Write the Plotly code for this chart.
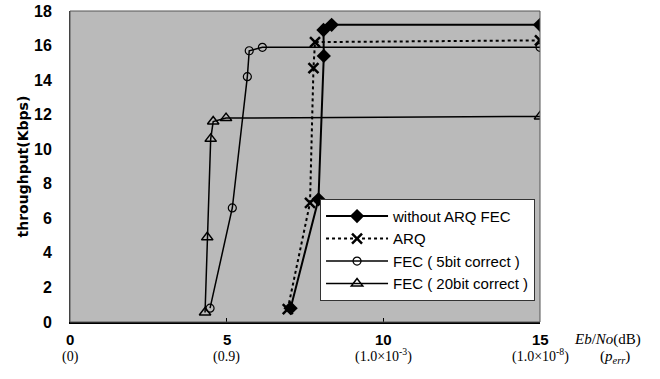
import plotly.graph_objects as go

# Data
x_plain = [7.04, 7.93, 8.10, 8.09, 8.35, 15.0]
y_plain = [0.8, 7.1, 15.4, 16.9, 17.2, 17.2]

x_arq = [6.95, 7.66, 7.77, 7.82, 15.0]
y_arq = [0.75, 6.9, 14.7, 16.2, 16.3]

x_fec5 = [4.47, 5.18, 5.66, 5.72, 6.14, 15.0]
y_fec5 = [0.8, 6.6, 14.2, 15.7, 15.9, 15.9]

x_fec20 = [4.31, 4.38, 4.49, 4.57, 4.98, 15.0]
y_fec20 = [0.55, 4.9, 10.6, 11.6, 11.8, 11.9]

series_names = ["without ARQ FEC", "ARQ", "FEC ( 5bit correct )", "FEC ( 20bit correct )"]

x_tick_vals = [0, 5, 10, 15]
x_tick_main = ["0", "5", "10", "15"]
x_tick_sub = ["(0)", "(0.9)", "(1.0×10<sup>-3</sup>)", "(1.0×10<sup>-8</sup>)"]
y_tick_vals = [0, 2, 4, 6, 8, 10, 12, 14, 16, 18]

fig = go.Figure()
fig.add_trace(go.Scatter(x=x_plain, y=y_plain, name=series_names[0], mode="lines+markers",
                         line=dict(color="black", width=2),
                         marker=dict(symbol="diamond", size=11, color="black")))
fig.add_trace(go.Scatter(x=x_arq, y=y_arq, name=series_names[1], mode="lines+markers",
                         line=dict(color="black", width=2, dash="dot"),
                         marker=dict(symbol="x-thin", size=10, line=dict(color="black", width=2.5))))
fig.add_trace(go.Scatter(x=x_fec5, y=y_fec5, name=series_names[2], mode="lines+markers",
                         line=dict(color="black", width=1.5),
                         marker=dict(symbol="circle-open", size=8, color="black", line=dict(width=1.2))))
fig.add_trace(go.Scatter(x=x_fec20, y=y_fec20, name=series_names[3], mode="lines+markers",
                         line=dict(color="black", width=1.5),
                         marker=dict(symbol="triangle-up-open", size=10, color="black", line=dict(width=1.5))))

for v, main, sub in zip(x_tick_vals, x_tick_main, x_tick_sub):
    fig.add_annotation(x=v, y=0, xref="x", yref="paper", yshift=-28, text="<b>" + main + "</b>",
                       xanchor="center", yanchor="bottom",
                       showarrow=False, font=dict(family="Arial", size=15, color="black"))
    fig.add_annotation(x=v, y=0, xref="x", yref="paper", yshift=-45, text=sub,
                       xanchor="center", yanchor="bottom",
                       showarrow=False, font=dict(family="Liberation Serif", size=14, color="black"))

fig.add_annotation(x=1, y=0, xref="paper", yref="paper", xshift=67, yshift=-28,
                   xanchor="center", yanchor="bottom",
                   text="<i>Eb</i>/<i>No</i>(dB)", showarrow=False,
                   font=dict(family="Liberation Serif", size=15, color="black"))
fig.add_annotation(x=1, y=0, xref="paper", yref="paper", xshift=75, yshift=-46,
                   xanchor="center", yanchor="bottom",
                   text="(<i>p</i><sub><i>err</i></sub>)", showarrow=False,
                   font=dict(family="Liberation Serif", size=15, color="black"))
fig.add_annotation(x=0, y=0.5, xref="paper", yref="paper", xshift=-48, textangle=-90,
                   xanchor="center", yanchor="middle",
                   text="<b>throughput(Kbps)</b>", showarrow=False,
                   font=dict(family="DejaVu Sans", size=14, color="black"))

fig.update_layout(
    width=660, height=379,
    margin=dict(l=70, r=120, t=11, b=57, autoexpand=False),
    paper_bgcolor="white",
    plot_bgcolor="#bababa",
    showlegend=True,
    legend=dict(x=0.532, y=0.396, xanchor="left", yanchor="top",
                bgcolor="white", bordercolor="#333333", borderwidth=1,
                font=dict(family="Arial", size=15, color="black"),
                tracegroupgap=0, itemwidth=62),
    xaxis=dict(range=[0, 15], tickvals=x_tick_vals, showticklabels=False, automargin=False,
               ticks="inside", ticklen=4, tickcolor="black",
               showgrid=False, zeroline=False, showline=True, linecolor="black", linewidth=1.5,
               mirror=False),
    yaxis=dict(range=[0, 18], tickvals=y_tick_vals, ticks="outside", ticklen=14, automargin=False,
               tickcolor="rgba(0,0,0,0)", ticklabeloverflow="allow",
               tickfont=dict(family="Arial", size=16, color="black", weight="bold"),
               showgrid=False, zeroline=False, showline=True, linecolor="#333333", linewidth=1),
)
# top and right border of the plot area
fig.add_shape(type="rect", xref="paper", yref="paper", x0=0, y0=0, x1=1, y1=1,
              line=dict(color="#555555", width=1), layer="above")

fig.write_html("out.html", config={"displayModeBar": False},
               post_script="document.body.style.margin='0';document.body.style.overflow='hidden';")
